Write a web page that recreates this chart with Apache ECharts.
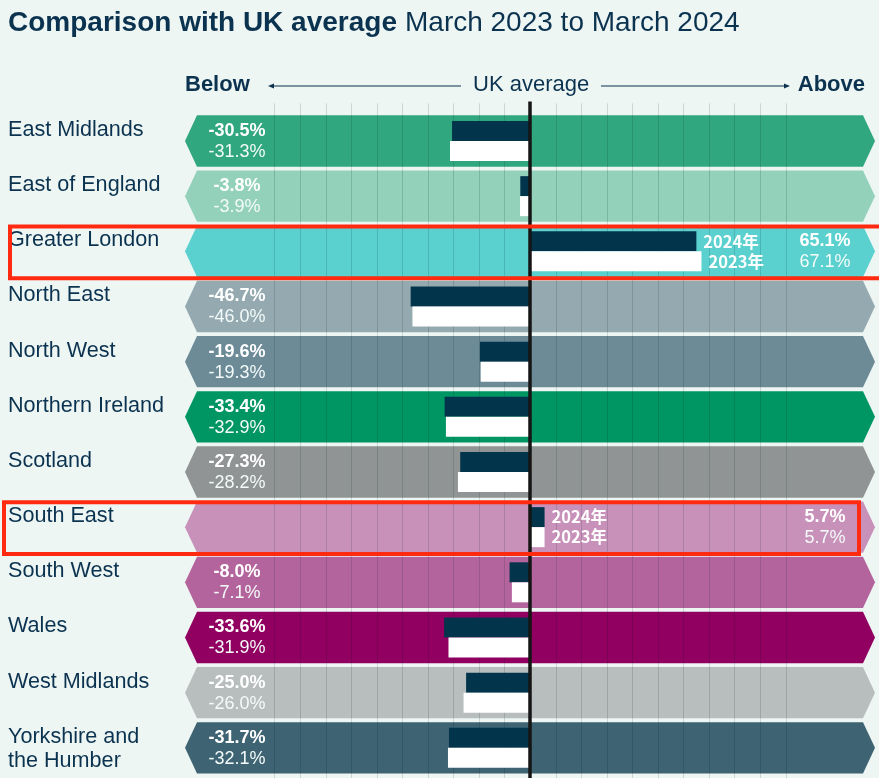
<!DOCTYPE html>
<html>
<head>
<meta charset="utf-8">
<script src="https://cdn.jsdelivr.net/npm/echarts@6/dist/echarts.min.js"></script>
<style>
html,body{margin:0;padding:0;background:#eef6f4;}
#chart{width:879px;height:778px;}
</style>
</head>
<body>
<div id="chart"></div>
<script>
// ---------- data ----------
const categories = ['East Midlands','East of England','Greater London','North East','North West','Northern Ireland','Scotland','South East','South West','Wales','West Midlands','Yorkshire and\nthe Humber'];
const values2024 = [-30.5, -3.8, 65.1, -46.7, -19.6, -33.4, -27.3, 5.7, -8.0, -33.6, -25.0, -31.7];
const values2023 = [-31.3, -3.9, 67.1, -46.0, -19.3, -32.9, -28.2, 5.7, -7.1, -31.9, -26.0, -32.1];
const seriesNames = ['2024年', '2023年'];
const gridTicks = [-100,-90,-80,-70,-60,-50,-40,-30,-20,-10,10,20,30,40,50,60,70,80,90,100];
const highlighted = ['Greater London', 'South East'];

// ---------- styles ----------
const bandColors = ['#30a77f','#93d1ba','#5ad0cf','#94aab0','#6c8b97','#009664','#909494','#c891b9','#b4649c','#910060','#b8bebe','#3e6373'];
const navy = '#0b3350';
const barNavy = '#02344b';
const FONT = 'Arial, "Liberation Sans", sans-serif';
const highlightInsets = { 'Greater London': [10, -6], 'South East': [4, 20] }; // left x, right inset (px)

const chart = echarts.init(document.getElementById('chart'));

function fmt(v){ return v.toFixed(1) + '%'; }

const option = {
  backgroundColor: '#eef6f4',
  animation: false,
  title: {
    left: 8, top: 8, padding: 0,
    text: '{b|Comparison with UK average}{n|March 2023 to March 2024}',
    textStyle: {
      rich: {
        b: { fontFamily: FONT, fontWeight: 'bold', fontSize: 28, color: navy, lineHeight: 30 },
        n: { fontFamily: FONT, fontWeight: 'normal', fontSize: 28, color: navy, lineHeight: 30, padding: [0, 0, 0, 8] }
      }
    }
  },
  grid: { left: 185, right: 4, top: 113.4, bottom: 2.6, containLabel: false },
  xAxis: {
    type: 'value', min: -135, max: 135,
    axisLine: { show: false }, axisTick: { show: false }, axisLabel: { show: false }, splitLine: { show: false }
  },
  yAxis: {
    type: 'category', inverse: true, data: categories,
    axisLine: { show: false }, axisTick: { show: false }, splitLine: { show: false },
    axisLabel: { show: false }
  },
  graphic: [
    { type: 'text', left: 185, top: 74, style: { text: 'Below', font: 'bold 22px ' + FONT, fill: navy } },
    { type: 'text', left: 473, top: 74, style: { text: 'UK average', font: '22px ' + FONT, fill: navy } },
    { type: 'text', right: 14, top: 74, style: { text: 'Above', font: 'bold 22px ' + FONT, fill: navy } },
    { type: 'line', shape: { x1: 272, y1: 86, x2: 461, y2: 86 }, style: { stroke: navy, lineWidth: 1 } },
    { type: 'polygon', shape: { points: [[268, 86], [274, 83.5], [274, 88.5]] }, style: { fill: navy } },
    { type: 'line', shape: { x1: 601, y1: 86, x2: 786, y2: 86 }, style: { stroke: navy, lineWidth: 1 } },
    { type: 'polygon', shape: { points: [[790, 86], [784, 83.5], [784, 88.5]] }, style: { fill: navy } }
  ],
  series: [
    {
      type: 'custom', name: 'bands', z: 1, silent: true,
      data: categories.map((c, i) => [0, i]),
      renderItem: function (params, api) {
        const i = api.value(1);
        const cs = params.coordSys;
        const cy = api.coord([0, i])[1];
        const h = api.size([0, 1])[1] * 0.465;
        const l = cs.x, r = cs.x + cs.width, tip = 12;
        const name = categories[i];
        return {
          type: 'group',
          children: [
            {
              type: 'polygon',
              shape: { points: [[l, cy], [l + tip, cy - h], [r - tip, cy - h], [r, cy], [r - tip, cy + h], [l + tip, cy + h]] },
              style: { fill: bandColors[i] }
            },
            {
              type: 'text',
              style: {
                text: name.indexOf('\n') >= 0 ? name : name + '\n ',
                x: 8, y: cy + 1, align: 'left', verticalAlign: 'middle',
                font: '21.6px ' + FONT, lineHeight: 24, fill: navy
              }
            }
          ]
        };
      }
    },
    {
      type: 'custom', name: 'grid', z: 2, silent: true,
      data: gridTicks.map(v => [v, 0]),
      renderItem: function (params, api) {
        const cs = params.coordSys;
        const x = Math.round(api.coord([api.value(0), 0])[0]) + 0.5;
        return {
          type: 'line',
          shape: { x1: x, y1: cs.y - 10, x2: x, y2: cs.y + cs.height + 5 },
          style: { stroke: 'rgba(0,30,40,0.15)', lineWidth: 1 }
        };
      }
    },
    {
      type: 'bar', name: seriesNames[0], z: 3,
      barWidth: 20, barGap: '0%',
      itemStyle: { color: barNavy },
      label: { position: 'right', distance: 7, formatter: '{a}', color: '#fff', fontWeight: 'bold', fontSize: 16.5, fontFamily: '"Noto Sans CJK SC", sans-serif' },
      data: values2024.map(v => ({ value: v, label: { show: v > 0 } }))
    },
    {
      type: 'bar', name: seriesNames[1], z: 3,
      barWidth: 20, barGap: '0%',
      itemStyle: { color: '#ffffff' },
      label: { position: 'right', distance: 7, formatter: '{a}', color: '#fff', fontWeight: 'bold', fontSize: 16.5, fontFamily: '"Noto Sans CJK SC", sans-serif' },
      data: values2023.map(v => ({ value: v, label: { show: v > 0 } }))
    },
    {
      type: 'custom', name: 'zero', z: 4, silent: true,
      data: [[0, 0]],
      renderItem: function (params, api) {
        const cs = params.coordSys;
        const x = api.coord([0, 0])[0];
        return {
          type: 'line',
          shape: { x1: x, y1: cs.y - 12, x2: x, y2: cs.y + cs.height + 5 },
          style: { stroke: '#151515', lineWidth: 3.5 }
        };
      }
    },
    {
      type: 'custom', name: 'values', z: 5, silent: true,
      data: categories.map((c, i) => [values2024[i], i, values2023[i]]),
      renderItem: function (params, api) {
        const cs = params.coordSys;
        const v24 = api.value(0), i = api.value(1), v23 = api.value(2);
        const cy = api.coord([0, i])[1];
        const x = v24 < 0 ? cs.x + 52 : cs.x + cs.width - 50;
        return {
          type: 'group',
          children: [
            { type: 'text', style: { text: fmt(v24), x: x, y: cy - 10, align: 'center', verticalAlign: 'middle', fill: '#fff', font: 'bold 18px ' + FONT } },
            { type: 'text', style: { text: fmt(v23), x: x, y: cy + 11, align: 'center', verticalAlign: 'middle', fill: '#f4fbfa', font: '18px ' + FONT } }
          ]
        };
      }
    },
    {
      type: 'custom', name: 'highlight', z: 6, silent: true,
      data: highlighted.map(c => [0, categories.indexOf(c)]),
      renderItem: function (params, api) {
        const i = api.value(1);
        const name = categories[i];
        const ins = highlightInsets[name];
        const cy = api.coord([0, i])[1];
        const h = api.size([0, 1])[1] * 0.47;
        const x1 = ins[0], x2 = params.coordSys.x + params.coordSys.width + 4 - ins[1];
        return {
          type: 'rect',
          shape: { x: x1, y: cy - h + 1, width: x2 - x1, height: 2 * h },
          style: { fill: 'none', stroke: '#ff2a10', lineWidth: 4 }
        };
      }
    }
  ]
};
chart.setOption(option);
</script>
</body>
</html>
